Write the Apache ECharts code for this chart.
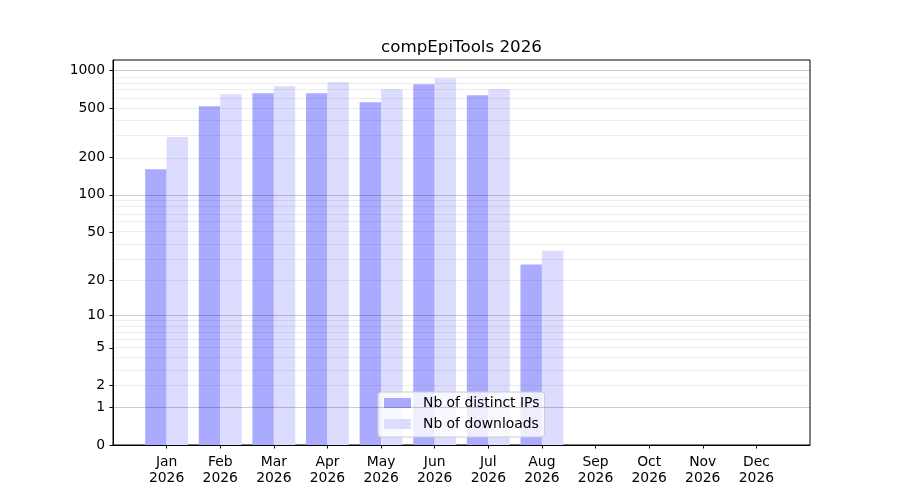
<!DOCTYPE html>
<html>
<head>
<meta charset="utf-8">
<script src="https://cdn.jsdelivr.net/npm/echarts@6/dist/echarts.min.js"></script>
<style>
html,body{margin:0;padding:0;background:#fff;}
#chart{width:900px;height:500px;}
</style>
</head>
<body>
<div id="chart"></div>
<script>
const titleText = 'compEpiTools 2026';
const months = ['Jan','Feb','Mar','Apr','May','Jun','Jul','Aug','Sep','Oct','Nov','Dec'];
const year = '2026';
const distinctIPs = [161, 517, 657, 657, 556, 776, 633, 27];
const downloads   = [293, 645, 748, 805, 707, 866, 707, 35];
const yTickValues = [0, 1, 2, 5, 10, 20, 50, 100, 200, 500, 1000];
const majorGridValues = [1, 10, 100, 1000];
const minorGridValues = [2,3,4,5,6,7,8,9,20,30,40,50,60,70,80,90,200,300,400,500,600,700,800,900];

// y scale: log10(1 + v)
const fwd = v => Math.log10(1 + v);
const inv = t => Math.round(Math.pow(10, t) - 1);

const font = 'DejaVu Sans';
const allVals = distinctIPs.concat(downloads);
const yMax = fwd(Math.max.apply(null, allVals)) * 1.05;
const monthIdx = months.map((m, i) => i);

const chart = echarts.init(document.getElementById('chart'), null, {renderer: 'canvas'});
const gridLines = majorGridValues.map(v => ({yAxis: fwd(v), lineStyle: {color: 'rgba(0,0,0,0.2)', width: 1, type: 'solid'}}))
  .concat(minorGridValues.map(v => ({yAxis: fwd(v), lineStyle: {color: 'rgba(0,0,0,0.07)', width: 1, type: 'solid'}})));

chart.setOption({
  animation: false,
  backgroundColor: '#fff',
  title: {
    text: titleText,
    left: 456.5,
    textAlign: 'center',
    top: 34.5,
    textStyle: {fontFamily: font, fontSize: 16.7, fontWeight: 'normal', color: '#000'}
  },
  legend: {
    orient: 'vertical',
    left: 378,
    top: 392,
    data: ['Nb of distinct IPs', 'Nb of downloads'],
    icon: 'rect',
    itemWidth: 27,
    itemHeight: 10,
    itemGap: 5,
    padding: [3, 5, 5, 6],
    backgroundColor: 'rgba(255,255,255,0.8)',
    borderColor: '#cccccc',
    borderWidth: 1,
    borderRadius: 3,
    textStyle: {fontFamily: font, fontSize: 13.9, color: '#000', lineHeight: 16, padding: [0, 0, 0, 7]}
  },
  grid: {
    left: 113, right: 90, top: 60, bottom: 55,
    show: true, borderColor: '#000', borderWidth: 1, backgroundColor: 'transparent'
  },
  xAxis: {
    type: 'value',
    min: -1, max: 12, interval: 1,
    axisLine: {show: true, onZero: false, lineStyle: {color: '#000', width: 1}},
    axisTick: {show: true, length: 3.5, inside: false, customValues: monthIdx, lineStyle: {color: '#000'}},
    axisLabel: {
      customValues: monthIdx,
      margin: 9,
      fontFamily: font, fontSize: 13.9, color: '#000', lineHeight: 16,
      formatter: v => (months[v] !== undefined ? months[v] + '\n' + year : '')
    },
    splitLine: {show: false}
  },
  yAxis: {
    type: 'value',
    min: 0, max: yMax,
    axisLine: {show: true, onZero: false, lineStyle: {color: '#000', width: 1}},
    axisTick: {show: true, length: 3.5, inside: false, customValues: yTickValues.map(fwd), lineStyle: {color: '#000'}},
    axisLabel: {
      customValues: yTickValues.map(fwd),
      margin: 8,
      fontFamily: font, fontSize: 13.9, color: '#000',
      formatter: t => String(inv(t))
    },
    splitLine: {show: false}
  },
  series: [
    {
      name: 'Nb of distinct IPs',
      type: 'bar',
      barWidth: '40%',
      barGap: '0%',
      itemStyle: {color: '#aaaaff'},
      data: distinctIPs.map((v, i) => [i, fwd(v)]),
      markLine: {
        silent: true,
        symbol: 'none',
        z: 5,
        label: {show: false},
        animation: false,
        data: gridLines
      }
    },
    {
      name: 'Nb of downloads',
      type: 'bar',
      barWidth: '40%',
      barGap: '0%',
      itemStyle: {color: '#dcdcff'},
      data: downloads.map((v, i) => [i, fwd(v)])
    }
  ]
});
</script>
</body>
</html>
